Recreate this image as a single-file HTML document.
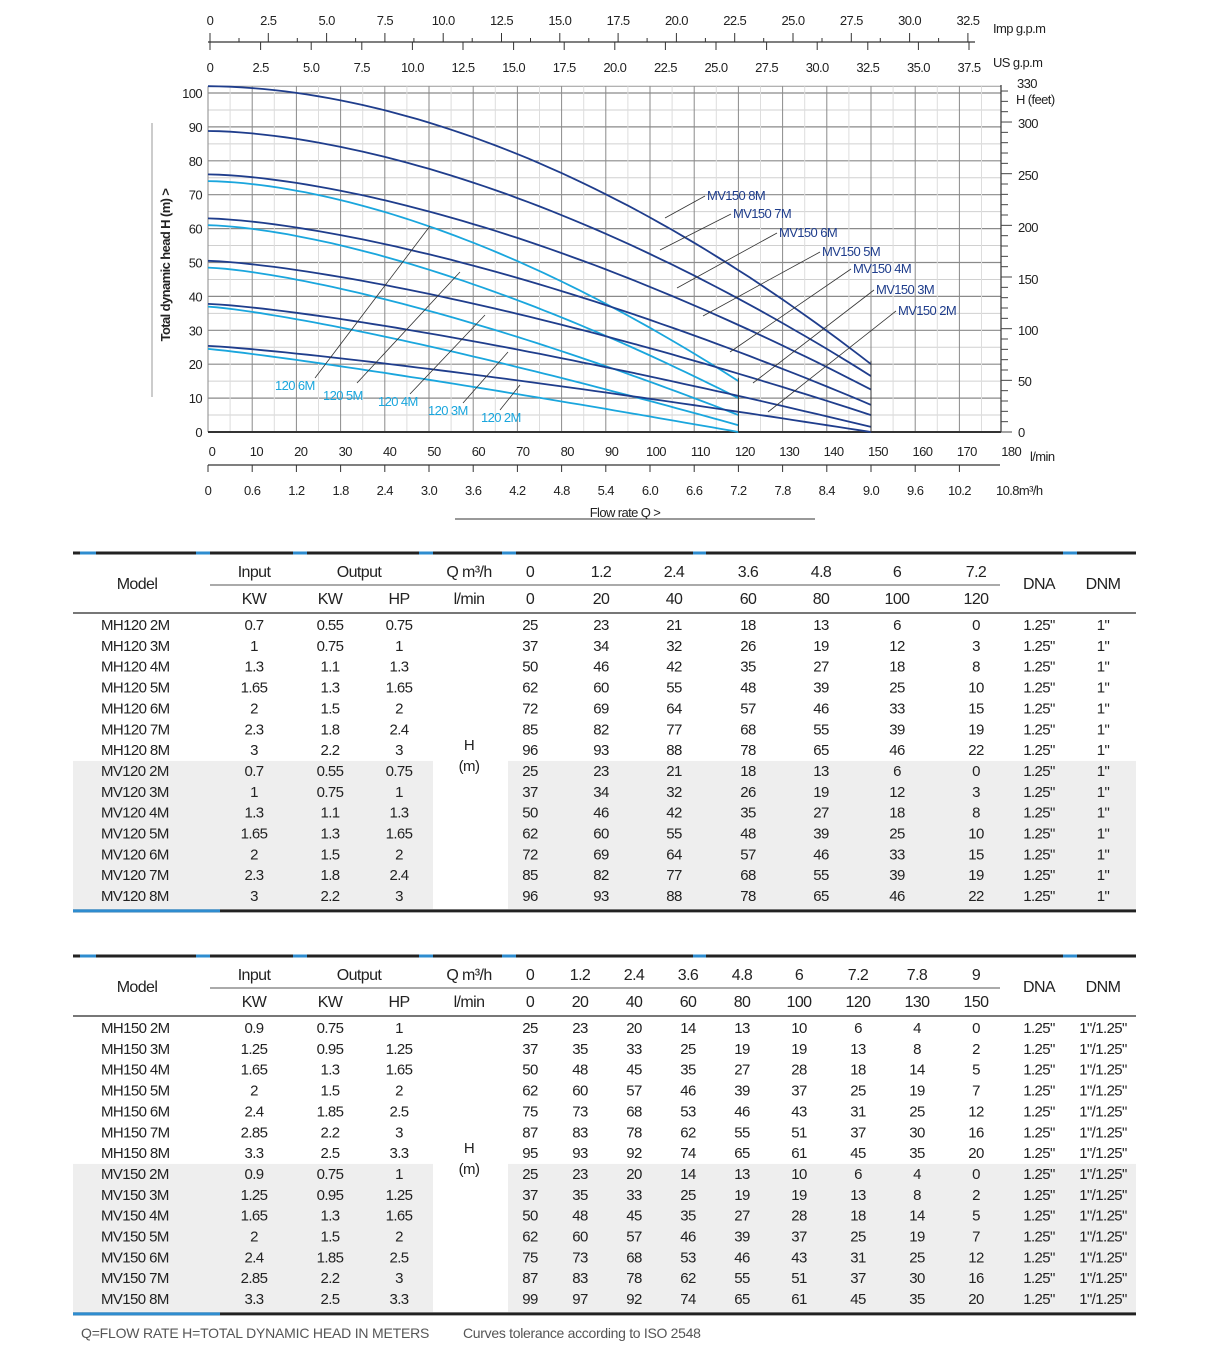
<!DOCTYPE html>
<html><head><meta charset="utf-8"><style>
html,body{margin:0;padding:0;background:#fff;}
svg{display:block;font-family:"Liberation Sans",sans-serif;}
</style></head><body>
<svg id="s" width="1209" height="1357" viewBox="0 0 1209 1357" xmlns="http://www.w3.org/2000/svg"></svg>
<script>
var s=document.getElementById('s'),o='';
function T(x,y,t,sz,fill,anchor,extra){o+='<text x="'+x+'" y="'+y+'" font-size="'+(sz||14)+'" fill="'+(fill||'#222')+'" text-anchor="'+(anchor||'middle')+'" letter-spacing="-0.6" '+(extra||'')+'>'+t+'</text>';}
function L(x1,y1,x2,y2,c,w){o+='<line x1="'+x1+'" y1="'+y1+'" x2="'+x2+'" y2="'+y2+'" stroke="'+c+'" stroke-width="'+(w||1)+'"/>';}
function R(x,y,w,h,c){o+='<rect x="'+x+'" y="'+y+'" width="'+w+'" height="'+h+'" fill="'+c+'"/>';}
function X(q){return 208+q*4.42;} function Y(h){return 432-h*3.39;}
// grid
for(var h=0;h<=100;h+=5){L(208,Y(h),1001,Y(h),h%10?'#d0d0d0':'#8a8a8a',h%10?1:1.2);}
L(208,Y(102),1001,Y(102),'#999',1);
for(var q=0;q<=180;q+=5){if(X(q)<=1002)L(X(q),Y(102),X(q),432,q%10?'#dddddd':'#8a8a8a',1);}
L(208,432,1001,432,'#333',2);L(1001,85,1001,432,'#333',1.2);
for(h=0;h<=100;h+=10)T(202,Y(h)+5,h,13,'#222','end');
for(var f=0;f<=330;f+=10){var yy=432-f*0.3048*3.39;L(1001,yy,f%50?1008:1012,yy,'#444',1);}
[[0,437],[50,386],[100,335],[150,284],[200,232],[250,180],[300,128]].forEach(function(a){T(1018,a[1],a[0],13,'#222','start');});
T(1017,88,'330',13,'#222','start');T(1016,104,'H (feet)',13,'#222','start');
T(170,265,'Total dynamic head H (m)  &gt;',13,'#222','middle','font-weight="bold" letter-spacing="0.3" transform="rotate(-90 170 265)"');
L(152,123,152,397,'#999',1);
L(208,42,975,42,'#333',1.2);
var imp=['0','2.5','5.0','7.5','10.0','12.5','15.0','17.5','20.0','22.5','25.0','27.5','30.0','32.5'];
imp.forEach(function(t,i){var x=210+i*58.3;T(x,25,t,13);L(x,33,x,42,'#333',1);if(i<13)L(x+29,38,x+29,42,'#333',1);});
var us=['0','2.5','5.0','7.5','10.0','12.5','15.0','17.5','20.0','22.5','25.0','27.5','30.0','32.5','35.0','37.5'];
us.forEach(function(t,i){var x=210+i*50.6;T(x,72,t,13);L(x,42,x,50,'#333',1);});
T(993,33,'Imp g.p.m',13,'#222','start');T(993,67,'US g.p.m',13,'#222','start');
for(q=0;q<=180;q+=10){T(X(q)+4+q*0.02,456,q,13);}
T(1030,461,'l/min',13,'#222','start');
L(208,465,1000,465,'#333',1.2);
var m3=['0','0.6','1.2','1.8','2.4','3.0','3.6','4.2','4.8','5.4','6.0','6.6','7.2','7.8','8.4','9.0','9.6','10.2'];
m3.forEach(function(t,i){var x=208+i*44.2;L(x,465,x,472,'#333',1);T(x,495,t,13);});
T(996,495,'10.8m³/h',13,'#222','start');
T(625,517,'Flow rate Q  &gt;',13);L(455,519,815,519,'#333',1);
function curve(H0,He,p,qm,c){var d='';for(var i=0;i<=60;i++){var q=qm*i/60;var h=H0-(H0-He)*Math.pow(q/qm,p);d+=(i?'L':'M')+X(q).toFixed(1)+' '+Y(h).toFixed(1);}o+='<path d="'+d+'" fill="none" stroke="'+c+'" stroke-width="1.8"/>';}
var dk='#1f3d8c',cy='#1aa6dd';
[[74,15,1.7],[61,10,1.55],[48.5,5,1.4],[37,2,1.25],[24.5,0,1.13]].forEach(function(a){curve(a[0],a[1],a[2],120,cy);});
[[102,20,1.85],[88.8,16.5,1.7],[76,12.5,1.6],[63,8,1.5],[50.5,5,1.4],[37.8,1.5,1.3],[25.4,0,1.2]].forEach(function(a){curve(a[0],a[1],a[2],150,dk);});
L(X(120),Y(16),X(120),432,'#333',1);L(X(150),Y(21),X(150),432,'#333',1);
[['MV150 8M',707,200,665,218],['MV150 7M',733,218,660,250],['MV150 6M',779,237,677,288],['MV150 5M',822,256,703,316],['MV150 4M',853,273,730,352],['MV150 3M',876,294,753,383],['MV150 2M',898,315,768,412]].forEach(function(a){L(a[3],a[4],a[1]-2,a[2]-4,'#333',0.8);T(a[1],a[2],a[0],13,dk,'start');});
[['120 6M',275,390,315,378,430,226],['120 5M',323,400,357,383,460,272],['120 4M',378,406,410,394,485,315],['120 3M',428,415,463,403,508,352],['120 2M',481,422,500,410,520,385]].forEach(function(a){L(a[3],a[4],a[5],a[6],'#333',0.8);T(a[1],a[2],a[0],13,cy,'start');});
function table(top,qs,ls,cols,rows){
 var rh=20.85,r0=top+72;
 R(73,r0+7*rh-10,360,7*rh+2,'#eeeeee');R(508,r0+7*rh-10,628,7*rh+2,'#eeeeee');
 L(73,top,1136,top,'#222',3);
 [[80,96],[196,210],[293,307],[419,433],[502,516],[693,706],[1063,1077]].forEach(function(b){L(b[0],top,b[1],top,'#2e8ccf',3);});
 var y1=top+24,y2=top+51;
 T(137,y1+12,'Model',16);T(254,y1,'Input',16);T(359,y1,'Output',16);T(469,y1,'Q m³/h',16);
 T(254,y2,'KW',16);T(330,y2,'KW',16);T(399,y2,'HP',16);T(469,y2,'l/min',16);
 cols.forEach(function(x,i){T(x,y1,qs[i],16);T(x,y2,ls[i],16);});
 T(1039,y1+12,'DNA',16);T(1103,y1+12,'DNM',16);
 L(210,top+32,1000,top+32,'#555',1);
 L(73,top+60,1136,top+60,'#777',2);
 rows.forEach(function(r,i){var y=r0+i*rh+5;var v=r.split(' ');var name=v[0]+' '+v[1];
  T(101,y,name,15,'#222','start');T(254,y,v[2],15);T(330,y,v[3],15);T(399,y,v[4],15);
  cols.forEach(function(x,j){T(x,y,v[5+j],15);});T(1039,y,v[5+cols.length],15);T(1103,y,v[6+cols.length],15);});
 T(469,r0+6*rh,'H',15);T(469,r0+7*rh,'(m)',15);
 var bt=r0+14*rh-6;L(73,bt,1136,bt,'#222',3);L(73,bt,220,bt,'#2e8ccf',3);
}
var t1=[],t2=[];
var a1=['2M 0.7 0.55 0.75 25 23 21 18 13 6 0','3M 1 0.75 1 37 34 32 26 19 12 3','4M 1.3 1.1 1.3 50 46 42 35 27 18 8','5M 1.65 1.3 1.65 62 60 55 48 39 25 10','6M 2 1.5 2 72 69 64 57 46 33 15','7M 2.3 1.8 2.4 85 82 77 68 55 39 19','8M 3 2.2 3 96 93 88 78 65 46 22'];
['MH120','MV120'].forEach(function(p){a1.forEach(function(r){t1.push(p+' '+r+' 1.25" 1"');});});
var a2=['2M 0.9 0.75 1 25 23 20 14 13 10 6 4 0','3M 1.25 0.95 1.25 37 35 33 25 19 19 13 8 2','4M 1.65 1.3 1.65 50 48 45 35 27 28 18 14 5','5M 2 1.5 2 62 60 57 46 39 37 25 19 7','6M 2.4 1.85 2.5 75 73 68 53 46 43 31 25 12','7M 2.85 2.2 3 87 83 78 62 55 51 37 30 16','8M 3.3 2.5 3.3 95 93 92 74 65 61 45 35 20'];
['MH150','MV150'].forEach(function(p){a2.forEach(function(r,i){if(p=='MV150'&&i==6)r='8M 3.3 2.5 3.3 99 97 92 74 65 61 45 35 20';t2.push(p+' '+r+' 1.25" 1"/1.25"');});});
table(553,['0','1.2','2.4','3.6','4.8','6','7.2'],['0','20','40','60','80','100','120'],[530,601,674,748,821,897,976],t1);
table(956,['0','1.2','2.4','3.6','4.8','6','7.2','7.8','9'],['0','20','40','60','80','100','120','130','150'],[530,580,634,688,742,799,858,917,976],t2);
o+='<text x="81" y="1338" font-size="14" fill="#555" letter-spacing="-0.2">Q=FLOW RATE H=TOTAL DYNAMIC HEAD IN METERS</text>';
o+='<text x="463" y="1338" font-size="14" fill="#555" letter-spacing="-0.3">Curves tolerance according to ISO 2548</text>';
s.innerHTML=o;
</script>
</body></html>
